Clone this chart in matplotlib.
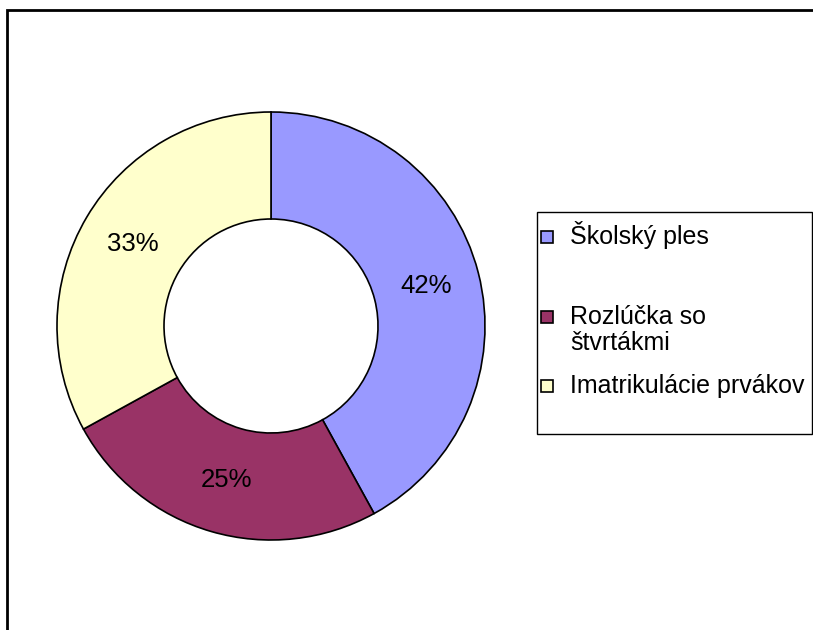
import matplotlib
matplotlib.use('Agg')
import matplotlib.pyplot as plt
from matplotlib.patches import Rectangle

# chart data
categories = ['Školský ples', 'Rozlúčka so\nštvrtákmi', 'Imatrikulácie prvákov']
values = [42, 25, 33]
colors = ['#9999FF', '#993366', '#FFFFCC']

plt.rcParams['font.family'] = ['Liberation Sans', 'DejaVu Sans']

W, H = 813, 630
fig = plt.figure(figsize=(W / 100, H / 100), dpi=100)


def fx(px):
    return px / W


def fy(py):
    return 1 - py / H


# outer chart frame (right and bottom edges fall outside the image)
fig.patches.append(Rectangle((fx(7), fy(700)), fx(900), 690 / H, transform=fig.transFigure,
                             fill=False, edgecolor='black', linewidth=2.0))

# donut
cx, cy, r = 271, 326, 214
ax = fig.add_axes([fx(cx - r), fy(cy + r), 2 * r / W, 2 * r / H])
wedges, texts, autotexts = ax.pie(values, colors=colors, startangle=90, counterclock=False,
                                  radius=1.0, autopct='%1.0f%%', pctdistance=0.75,
                                  wedgeprops=dict(width=0.5, edgecolor='black', linewidth=1.2),
                                  textprops=dict(fontsize=18.5, color='black'))
ax.set_xlim(-1, 1)
ax.set_ylim(-1, 1)
ax.set_aspect('equal')
ax.axis('off')

# legend box
fig.patches.append(Rectangle((fx(537), fy(434)), fx(812 - 537), (434 - 212) / H,
                             transform=fig.transFigure, fill=True, facecolor='white',
                             edgecolor='black', linewidth=1.0))
baselines = [[244], [324, 350], [393]]
for cat, col, bl in zip(categories, colors, baselines):
    sq_y = bl[0] - 7
    fig.patches.append(Rectangle((fx(541), fy(sq_y + 6)), fx(12), 12 / H,
                                 transform=fig.transFigure, facecolor=col,
                                 edgecolor='black', linewidth=1.2))
    for line, b in zip(cat.split('\n'), bl):
        fig.text(fx(570), fy(b), line, fontsize=18, ha='left', va='baseline')

fig.savefig('out.png', dpi=100)
